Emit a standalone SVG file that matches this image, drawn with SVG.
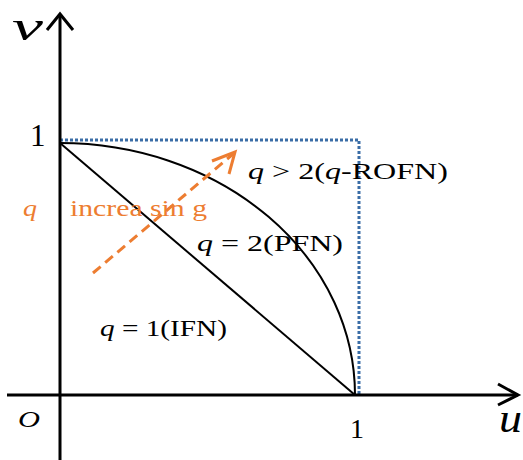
<svg xmlns="http://www.w3.org/2000/svg" width="523" height="460" viewBox="0 0 523 460">
<style>
.t{font-family:"Liberation Serif","Times New Roman",serif;fill:#000}
.i{font-style:italic}
.o{fill:#ED7D31}
.ax{stroke:#000;stroke-width:3;fill:none}
.ln{stroke:#000;stroke-width:2;fill:none}
</style>
<rect width="523" height="460" fill="#fff"/>
<g id="connectors">
<path id="box" d="M60,140 H359 V395" fill="none" stroke="#3A6DA6" stroke-width="3" stroke-dasharray="3 2"/>
<path id="line-q1" class="ln" d="M60,143 L355,395"/>
<path id="curve-q2" class="ln" d="M60,143 A295,252 0 0 1 355,395"/>
<path id="arrow-q" d="M93,273 L233,154" fill="none" stroke="#ED7D31" stroke-width="3" stroke-dasharray="10 6"/>
<path d="M212,161 L235,152 L229,174" fill="none" stroke="#ED7D31" stroke-width="3"/>
</g>
<g id="axes">
<path class="ax" d="M60,460 V14"/>
<path class="ax" d="M47,30 L60,14 L73,30"/>
<path class="ax" d="M7,395 H518"/>
<path class="ax" d="M498,384 L518,395 L498,405"/>
</g>
<g id="labels">
<text class="t i" x="12" y="40" font-size="42" textLength="31" lengthAdjust="spacingAndGlyphs">v</text>
<text class="t" x="30" y="146" font-size="31">1</text>
<text class="t i" x="18" y="427" font-size="24" textLength="22" lengthAdjust="spacingAndGlyphs">O</text>
<text class="t" x="350" y="438" font-size="28">1</text>
<text class="t i" x="499" y="432" font-size="40" textLength="23" lengthAdjust="spacingAndGlyphs">u</text>
</g>
<g id="label-q3">
<text class="t" x="248" y="179" font-size="24" textLength="200" lengthAdjust="spacingAndGlyphs"><tspan class="i">q</tspan> &gt; 2(<tspan class="i">q</tspan>-ROFN)</text>
</g>
<g id="label-q2">
<text class="t" x="197" y="251" font-size="24" textLength="146" lengthAdjust="spacingAndGlyphs"><tspan class="i">q</tspan> = 2(PFN)</text>
</g>
<g id="label-q1">
<text class="t" x="100" y="336" font-size="24" textLength="127" lengthAdjust="spacingAndGlyphs"><tspan class="i">q</tspan> = 1(IFN)</text>
</g>
<g id="label-increasing">
<text class="t i o" x="23" y="216" font-size="24" textLength="14" lengthAdjust="spacingAndGlyphs">q</text>
<text class="t o" x="70" y="216" font-size="24" textLength="137" lengthAdjust="spacingAndGlyphs">increa sin g</text>
</g>
</svg>
